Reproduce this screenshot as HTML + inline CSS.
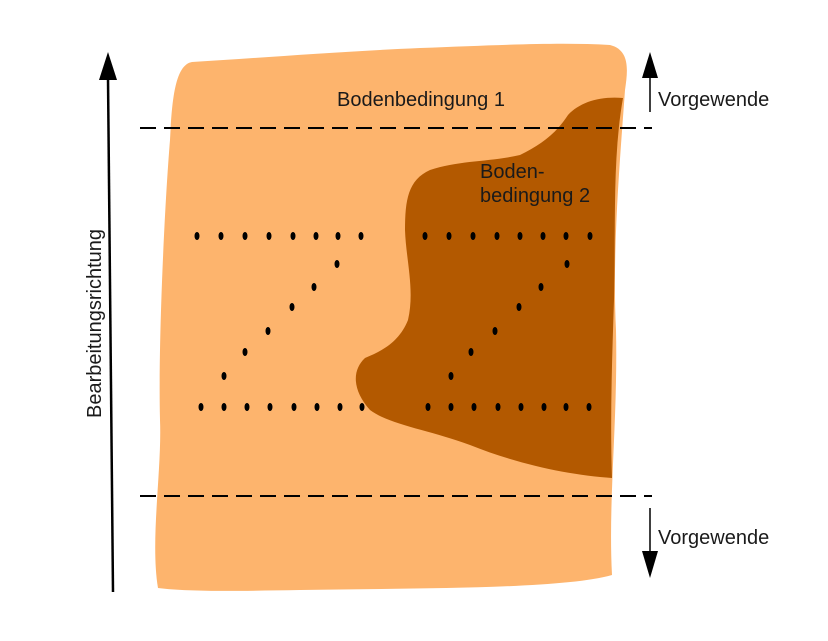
<!DOCTYPE html>
<html><head><meta charset="utf-8"><style>
html,body{margin:0;padding:0;background:#fff;width:828px;height:641px;overflow:hidden}
text{font-family:"Liberation Sans",sans-serif;font-size:20px;fill:#1a1a1a}
</style></head><body>
<svg width="828" height="641" viewBox="0 0 828 641">
<path d="M192,62 C260,58 330,52 420,48 C500,45 560,42 610,45 C630,50 628,70 625,90 C620,160 612,250 616,330 C618,420 608,500 612,575 C560,590 400,588 300,590 C240,591 190,592 158,588 C150,540 162,470 160,420 C158,340 165,200 170,140 C172,100 175,65 192,62 Z" fill="#FDB46D"/>
<path d="M623,98 C600,96 580,102 568,115 C555,135 540,145 520,155 C490,162 460,160 430,170 C408,180 405,200 405,230 C406,260 415,290 408,320 C400,340 385,350 365,358 C352,370 352,390 370,410 C390,425 430,430 470,445 C520,465 570,475 612,478 C610,420 612,360 614,300 C616,230 612,160 623,98 Z" fill="#B35900"/>
<g stroke="#000" stroke-width="2" stroke-dasharray="16,8">
<line x1="140" y1="128" x2="652" y2="128"/>
<line x1="140" y1="496" x2="652" y2="496"/>
</g>
<line x1="113" y1="592" x2="108" y2="78" stroke="#000" stroke-width="2.5"/>
<polygon points="108,52 99,80 117,80" fill="#000"/>
<line x1="650" y1="112" x2="650" y2="76" stroke="#000" stroke-width="1.5"/>
<polygon points="650,52 642,78 658,78" fill="#000"/>
<line x1="650" y1="508" x2="650" y2="553" stroke="#000" stroke-width="1.5"/>
<polygon points="650,578 642,551 658,551" fill="#000"/>
<text x="337" y="106">Bodenbedingung 1</text>
<text x="480" y="178">Boden-</text>
<text x="480" y="202">bedingung 2</text>
<text x="658" y="106">Vorgewende</text>
<text x="658" y="544">Vorgewende</text>
<text transform="translate(101,418) rotate(-90)" x="0" y="0">Bearbeitungsrichtung</text>
<g fill="#000">
<ellipse cx="197" cy="236" rx="2.5" ry="4"/><ellipse cx="221" cy="236" rx="2.5" ry="4"/><ellipse cx="245" cy="236" rx="2.5" ry="4"/><ellipse cx="269" cy="236" rx="2.5" ry="4"/><ellipse cx="293" cy="236" rx="2.5" ry="4"/><ellipse cx="316" cy="236" rx="2.5" ry="4"/><ellipse cx="338" cy="236" rx="2.5" ry="4"/><ellipse cx="361" cy="236" rx="2.5" ry="4"/>
<ellipse cx="425" cy="236" rx="2.5" ry="4"/><ellipse cx="449" cy="236" rx="2.5" ry="4"/><ellipse cx="473" cy="236" rx="2.5" ry="4"/><ellipse cx="497" cy="236" rx="2.5" ry="4"/><ellipse cx="520" cy="236" rx="2.5" ry="4"/><ellipse cx="543" cy="236" rx="2.5" ry="4"/><ellipse cx="566" cy="236" rx="2.5" ry="4"/><ellipse cx="590" cy="236" rx="2.5" ry="4"/>
<ellipse cx="337" cy="264" rx="2.5" ry="4"/><ellipse cx="314" cy="287" rx="2.5" ry="4"/><ellipse cx="292" cy="307" rx="2.5" ry="4"/><ellipse cx="268" cy="331" rx="2.5" ry="4"/><ellipse cx="245" cy="352" rx="2.5" ry="4"/><ellipse cx="224" cy="376" rx="2.5" ry="4"/>
<ellipse cx="567" cy="264" rx="2.5" ry="4"/><ellipse cx="541" cy="287" rx="2.5" ry="4"/><ellipse cx="519" cy="307" rx="2.5" ry="4"/><ellipse cx="495" cy="331" rx="2.5" ry="4"/><ellipse cx="471" cy="352" rx="2.5" ry="4"/><ellipse cx="451" cy="376" rx="2.5" ry="4"/>
<ellipse cx="201" cy="407" rx="2.5" ry="4"/><ellipse cx="224" cy="407" rx="2.5" ry="4"/><ellipse cx="247" cy="407" rx="2.5" ry="4"/><ellipse cx="270" cy="407" rx="2.5" ry="4"/><ellipse cx="294" cy="407" rx="2.5" ry="4"/><ellipse cx="317" cy="407" rx="2.5" ry="4"/><ellipse cx="340" cy="407" rx="2.5" ry="4"/><ellipse cx="362" cy="407" rx="2.5" ry="4"/>
<ellipse cx="428" cy="407" rx="2.5" ry="4"/><ellipse cx="451" cy="407" rx="2.5" ry="4"/><ellipse cx="474" cy="407" rx="2.5" ry="4"/><ellipse cx="498" cy="407" rx="2.5" ry="4"/><ellipse cx="521" cy="407" rx="2.5" ry="4"/><ellipse cx="544" cy="407" rx="2.5" ry="4"/><ellipse cx="566" cy="407" rx="2.5" ry="4"/><ellipse cx="589" cy="407" rx="2.5" ry="4"/>
</g>
</svg>
</body></html>
